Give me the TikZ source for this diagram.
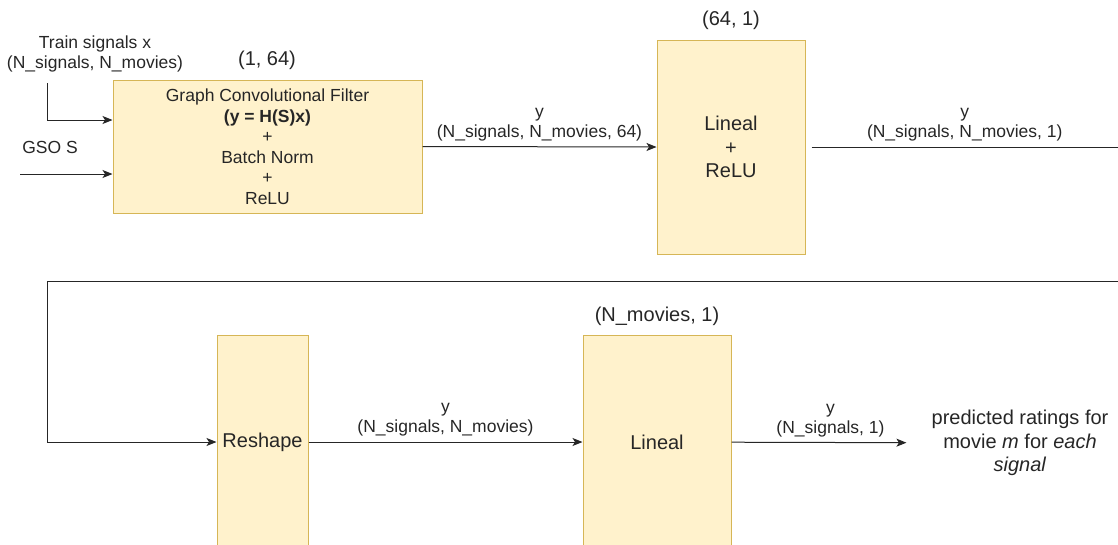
\documentclass[tikz,border=0pt]{standalone}
\usepackage{fontspec}
\setmainfont{Liberation Sans}
\usetikzlibrary{arrows.meta}
\definecolor{blkfill}{HTML}{FFF2CC}
\definecolor{blkline}{HTML}{D6B656}
\definecolor{ink}{HTML}{262626}
\tikzstyle{block}=[draw=blkline, fill=blkfill, line width=1pt, inner sep=0pt, align=center, text=ink, font=\fontsize{20}{23.5}\selectfont]
\tikzstyle{lbl}=[text=ink, align=center, inner sep=2pt, font=\fontsize{17.5}{20}\selectfont]
\tikzstyle{big}=[text=ink, align=center, inner sep=2pt, font=\fontsize{20}{23.5}\selectfont]
\tikzstyle{wire}=[draw=ink, line width=1pt]
\tikzstyle{arr}=[wire, -{Stealth[length=10pt,width=8pt,inset=2.5pt]}]

\begin{document}
\begin{tikzpicture}[x=1pt, y=-1pt]
    \useasboundingbox (0,0) rectangle (1118,544);
    \clip (0,0) rectangle (1118,544);
% Blocks
    \node[block, minimum width=309, minimum height=133, font=\fontsize{17.5}{20.5}\selectfont] (gcf) at (267.5,146.5)
        {Graph Convolutional Filter\\\textbf{(y = H(S)x)}\\+\\Batch Norm\\+\\ReLU};
    \node[block, minimum width=148, minimum height=214] (lin1) at (731,147) {Lineal\\+\\ReLU};
    \node[block, minimum width=91, minimum height=214] (resh) at (262.5,442) {Reshape};
    \node[block, minimum width=148, minimum height=214] (lin2) at (657,442) {Lineal};
% Weight shapes
    \node[big] (shgcf) at (267,60) {(1, 64)};
    \node[big] (shlin1) at (731,20) {(64, 1)};
    \node[big] (shlin2) at (657,316) {(N\_movies, 1)};
% Inputs
    \node[lbl] (xlbl) at (95,54) {Train signals x\\(N\_signals, N\_movies)};
    \node[lbl] (slbl) at (50,147) {GSO S};
    \coordinate (xin) at (47,83);
    \coordinate (sin) at (20,174);
    \draw[arr] (xin) |- ([yshift=26.5]gcf.west);
    \draw[arr] (sin) -- ([yshift=-27.5]gcf.west);
% Flow between blocks
    \coordinate (rt) at (1118,147);
    \coordinate (rb) at (1118,281);
    \coordinate (bend) at (47,281);
    \draw[arr] (gcf.east) -- node[lbl, above, yshift=3] {y\\(N\_signals, N\_movies, 64)} (lin1.west);
    \draw[wire] ([xshift=6]lin1.east) -- node[lbl, above, yshift=3] {y\\(N\_signals, N\_movies, 1)} (rt);
    \draw[arr] (rb) -- (bend) |- (resh.west);
    \draw[arr] (resh) -- node[lbl, above, yshift=3] {y\\(N\_signals, N\_movies)} (lin2);
% Output
    \node[big] (out) at (1020,443) {predicted ratings for\\movie \textit{m} for \textit{each}\\\textit{signal}};
    \draw[arr, shorten >=23pt] (lin2) -- node[lbl, above, yshift=3] {y\\(N\_signals, 1)} (out);
\end{tikzpicture}
\end{document}
